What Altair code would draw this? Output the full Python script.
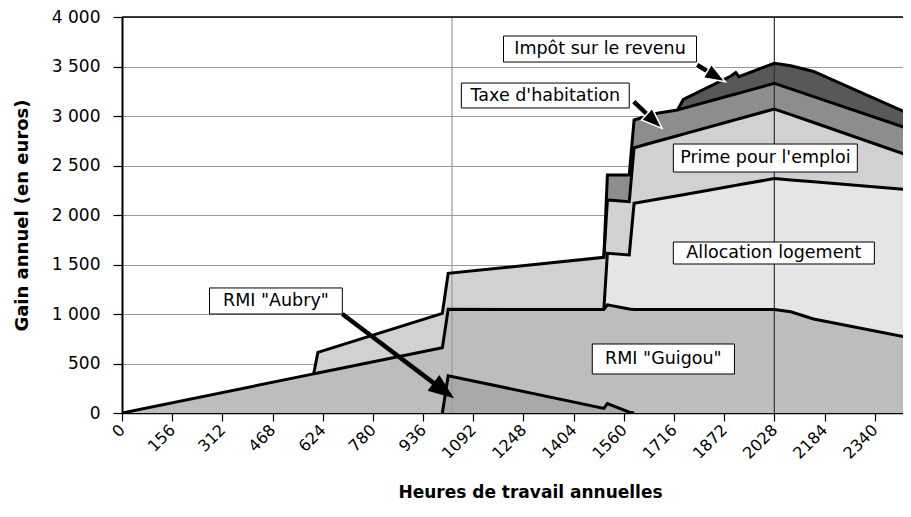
import altair as alt
import pandas as pd

# ---------------- data ----------------
hours = [0, 596, 609, 996, 1014, 1498, 1509, 1577, 1592, 1664, 1727, 1745,
         1893, 1908, 1918, 2028, 2079, 2150, 2456]

rmi_aubry = [0, 0, 0, 0, 377, 47, 95, 8, 0, 0, 0, 0, 0, 0, 0, 0, 0, 0, 0]
rmi_guigou = [0, 395, 404, 660, 670, 998, 997, 1042, 1045, 1045, 1045, 1045,
              1045, 1045, 1045, 1045, 1023, 950, 755]
alloc_logement = [0, 0, 0, 0, 0, 0, 521, 546, 1073, 1114, 1150, 1160, 1245,
                  1254, 1260, 1323, 1331, 1385, 1498]
prime_emploi = [0, 0, 209, 347, 364, 528, 539, 538, 562, 586, 606, 612, 660,
                664, 667, 703, 660, 599, 336]
taxe_habitation = [0, 0, 0, 0, 0, 0, 252, 270, 280, 282, 260, 260, 259, 259,
                   259, 259, 260, 262, 270]
impot_revenu = [0, 0, 0, 0, 0, 0, 0, 0, 0, 0, 0, 90, 195, 216, 167, 202, 233,
                254, 151]

layers = ["RMI Aubry", "RMI Guigou", "Allocation logement",
          "Prime pour l'emploi", "Taxe d'habitation", "Impôt sur le revenu"]
series = [rmi_aubry, rmi_guigou, alloc_logement, prime_emploi,
          taxe_habitation, impot_revenu]
colors = ["#a9a9ac", "#bdbdc0", "#e5e5e7", "#d1d1d4", "#8d8d90", "#58585b"]

x_ticks = list(range(0, 2341, 156))
y_ticks = list(range(0, 4001, 500))
vlines = [1026, 2028]

# annotation labels (boxes in data units)
ann_text = ['Impôt sur le revenu', "Taxe d'habitation", "Prime pour l'emploi",
            'Allocation logement', 'RMI "Guigou"', 'RMI "Aubry"']
ann_x0 = [1186, 1055, 1714, 1714, 1462, 272]
ann_x1 = [1786, 1577, 2286, 2339, 1904, 685]
ann_y0 = [3545, 3081, 2434, 1505, 394, 1000]
ann_y1 = [3808, 3333, 2717, 1727, 697, 1263]

# arrows: shaft start, head centre, head angle, head size
arr_x0 = [685, 1591, 1788]
arr_y0 = [1000, 3145, 3515]
arr_x1 = [997, 1654, 1846]
arr_y1 = [234, 2951, 3403]
arr_angle = [127, 133, 120.5]
arr_size = [580, 480, 480]
arr_white = [False, True, True]

# ---------------- build tables ----------------
rows = []
n = len(hours)
cum = [0] * n
for k, (name, vals) in enumerate(zip(layers, series)):
    for i in range(n):
        active = (vals[i] > 0 or (i > 0 and vals[i - 1] > 0)
                  or (i < n - 1 and vals[i + 1] > 0))
        rows.append({"hours": hours[i], "layer": name, "order": k,
                     "val0": cum[i], "val": cum[i] + vals[i],
                     "active": active})
    cum = [c + v for c, v in zip(cum, vals)]
df = pd.DataFrame(rows)

ann = pd.DataFrame({"label": ann_text, "hours": ann_x0, "hours2": ann_x1,
                    "val": ann_y0, "val2": ann_y1})
ann["hc"] = (ann["hours"] + ann["hours2"]) / 2
ann["vc"] = (ann["val"] + ann["val2"]) / 2

arr = pd.DataFrame({"hours": arr_x0, "val": arr_y0, "hours2": arr_x1,
                    "val2": arr_y1, "angle": arr_angle, "size": arr_size,
                    "white": arr_white})

FONT = "DejaVu Sans"
xscale = alt.Scale(domain=[0, 2428], nice=False, zero=False)
yscale = alt.Scale(domain=[0, 4000], nice=False)

x_axis = alt.Axis(values=x_ticks, format="d",
                  title="Heures de travail annuelles",
                  labelAngle=315, labelAlign="right", labelBaseline="middle",
                  labelFont=FONT, labelFontSize=16, labelColor="black",
                  labelPadding=6, labelOverlap=False, labelFlush=False,
                  tickColor="black", tickSize=8, tickWidth=1.2,
                  domainColor="black", domainWidth=1.5, grid=False,
                  titleFont=FONT, titleFontSize=17, titleFontWeight="bold",
                  titleColor="black", titleX=408, titleY=79,
                  titleBaseline="middle")
y_axis = alt.Axis(values=y_ticks, title="Gain annuel (en euros)",
                  labelExpr="replace(format(datum.value, ','), ',', ' ')",
                  labelFont=FONT, labelFontSize=17, labelColor="black",
                  labelPadding=13, tickColor="black", tickSize=9,
                  tickWidth=1.2, domainColor="black", domainWidth=2,
                  grid=True, gridColor="#9a9a9a", gridWidth=1.2,
                  titleFont=FONT, titleFontSize=18, titleFontWeight="bold",
                  titleColor="black", titleX=-100, titleY=198,
                  titleBaseline="middle")

X = alt.X("hours:Q", scale=xscale, axis=x_axis)
Y = alt.Y("val:Q", scale=yscale, axis=y_axis, stack=None)

areas = alt.Chart(df).mark_area(clip=True, interpolate="linear").encode(
    x=X, y=Y, y2="val0:Q",
    color=alt.Color("layer:N", scale=alt.Scale(domain=layers, range=colors),
                    legend=None),
    detail="layer:N",
)

vl = alt.Chart(pd.DataFrame({"hours": vlines, "c": ["#9a9a9a", "#333333"]})
               ).mark_rule(strokeWidth=1.2).encode(
    x="hours:Q", color=alt.Color("c:N", scale=None))

top = alt.Chart(pd.DataFrame({"val": [4000]})).mark_rule(
    color="black", strokeWidth=1.5).encode(y="val:Q")

lines = alt.Chart(df[df["active"]]).mark_line(
    clip=True, color="black", strokeWidth=3, strokeJoin="miter").encode(
    x="hours:Q", y="val:Q", detail="layer:N")

boxes = alt.Chart(ann).mark_rect(fill="white", stroke="black",
                                 strokeWidth=1).encode(
    x="hours:Q", x2="hours2:Q", y="val:Q", y2="val2:Q")
texts = alt.Chart(ann).mark_text(font=FONT, fontSize=17.5, color="black",
                                 baseline="middle", align="center").encode(
    x="hc:Q", y="vc:Q", text="label:N")

shaft_white = alt.Chart(arr[arr["white"]]).mark_rule(
    color="white", strokeWidth=8, strokeCap="butt").encode(
    x="hours:Q", y="val:Q", x2="hours2:Q", y2="val2:Q")
shafts = alt.Chart(arr).mark_rule(color="black", strokeWidth=4.5,
                                  strokeCap="butt").encode(
    x="hours:Q", y="val:Q", x2="hours2:Q", y2="val2:Q")
HEAD = "M0,-1L0.72,0.9L-0.72,0.9Z"
heads = alt.Chart(arr).mark_point(shape=HEAD, filled=True, fill="black",
                                  opacity=1).encode(
    x="hours2:Q", y="val2:Q",
    angle=alt.Angle("angle:Q", scale=None),
    size=alt.Size("size:Q", scale=None),
    stroke=alt.condition("datum.white", alt.value("white"),
                         alt.value("black")),
    strokeWidth=alt.value(1.5))

chart = alt.layer(areas, vl, lines, top, boxes, texts, shaft_white, shafts,
                  heads).properties(
    width=781, height=396,
    autosize=alt.AutoSizeParams(type="none"),
    padding={"left": 114, "top": 9, "right": 0, "bottom": 100},
).configure_view(stroke=None)

chart.save("out.html", embed_options={"renderer": "svg", "actions": False})
